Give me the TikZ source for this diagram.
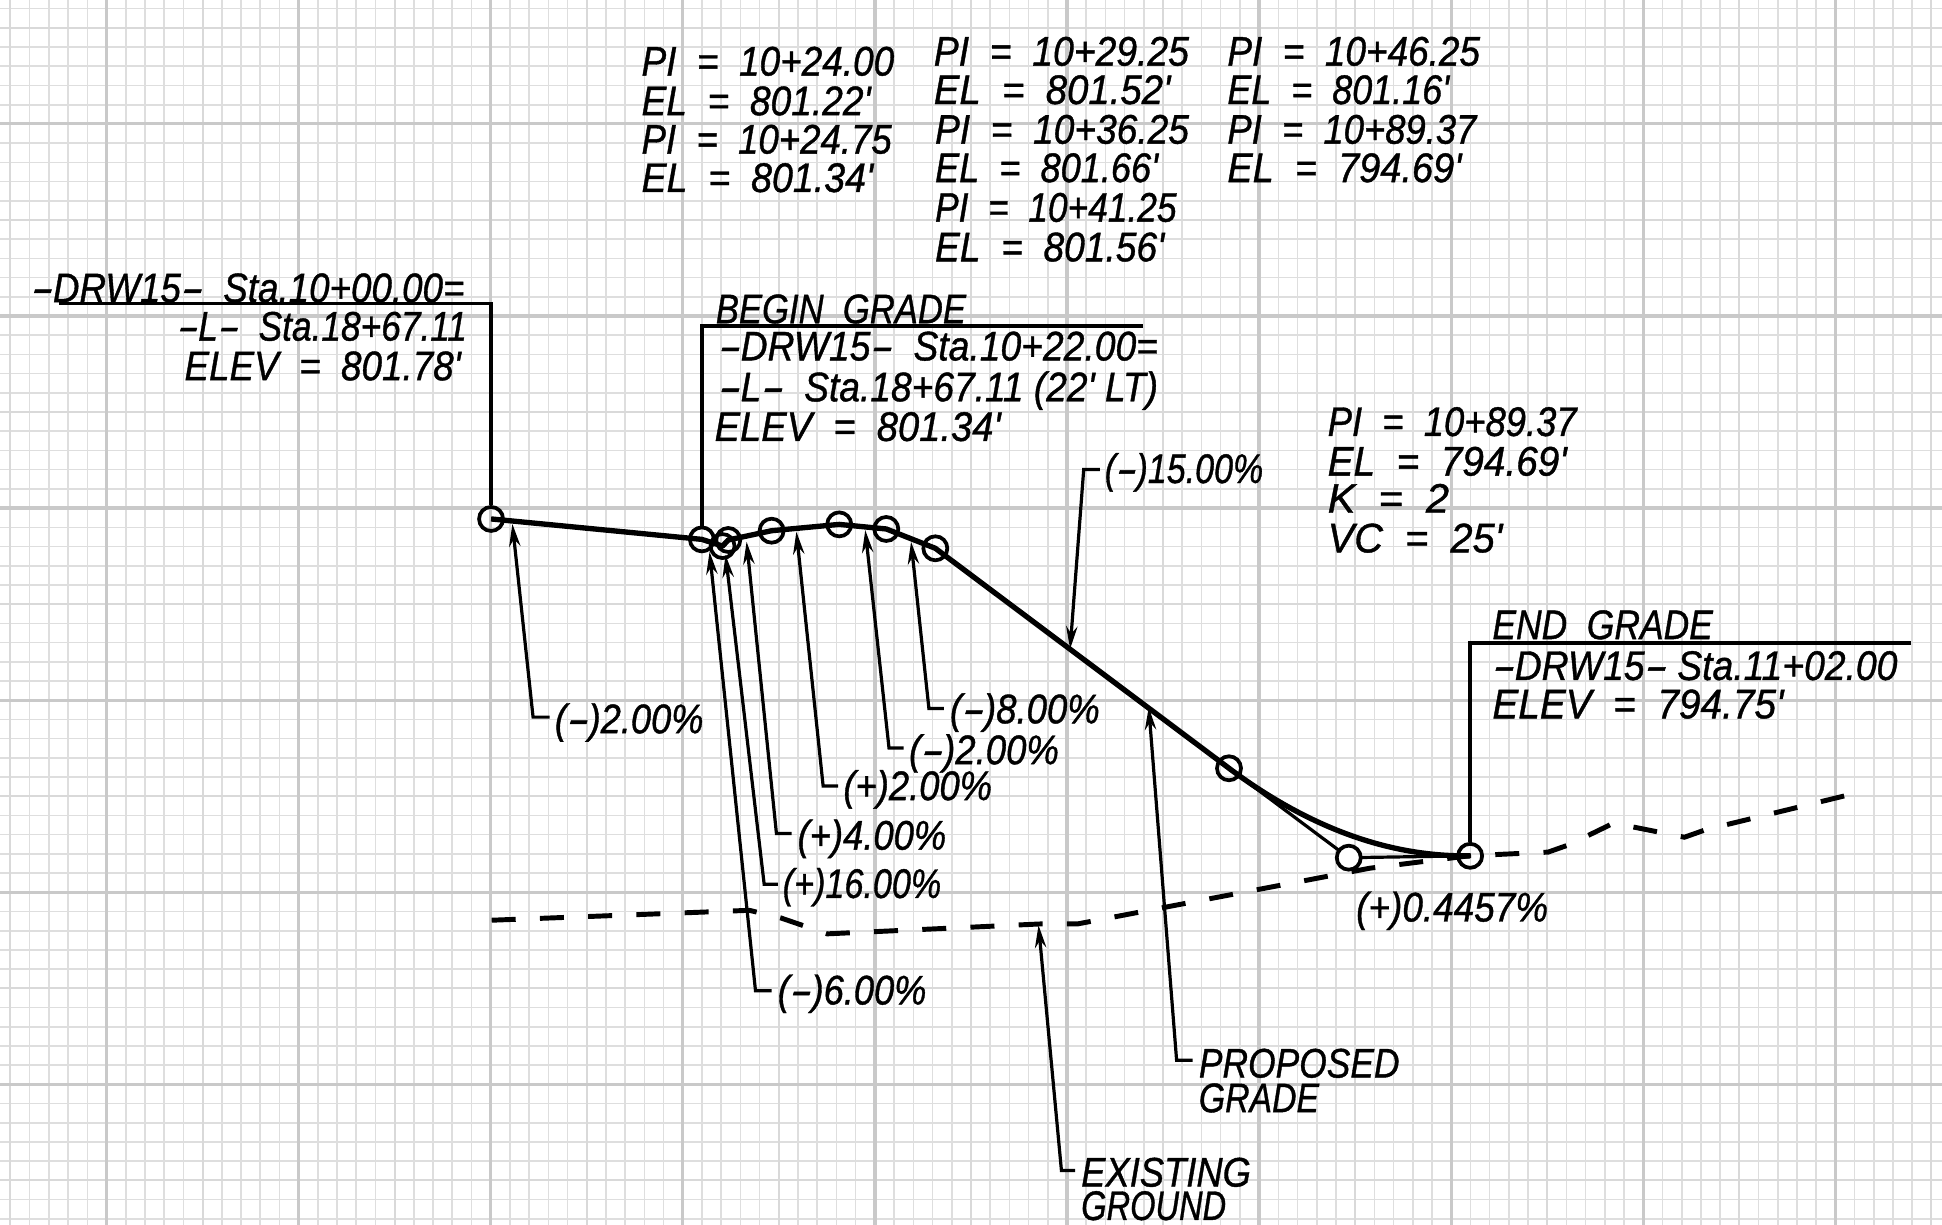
\documentclass[tikz,border=0pt]{standalone}
\usepackage{fontspec}
\usepackage{graphicx}
\usetikzlibrary{arrows.meta}
\newfontfamily\drawfont{Liberation Sans}[RawFeature={embolden=1.0}]
\newsavebox\lblbox
\newlength\lblwd
\newcommand\hy{\scalebox{1.8}[1]{-}}
\newcommand\lbl[5]{%
  \node[lbltext] (#1) at (#2,#3) {\sbox\lblbox{#5}\setlength\lblwd{\wd\lblbox}\pgfmathsetmacro\lblsc{(#4-#2)*0.92889/\the\lblwd}\scalebox{\lblsc}[1]{\usebox\lblbox}};%
}
\tikzset{
  lbltext/.style={anchor=base west,inner sep=0pt,outer sep=0pt,text=black,font=\drawfont\itshape\fontsize{31}{31}\selectfont},
  gridminor/.style={draw=black!13,line width=1.2pt},
  gridmid/.style={draw=black!15,line width=1.5pt},
  gridmajor/.style={draw=black!21,line width=2.4pt},
  callout/.style={draw=black,line width=2.8pt,line join=miter},
  leaderline/.style={draw=black,line width=2.4pt,line join=miter,-{Stealth[length=17pt,width=8.5pt]}},
  gradeline/.style={draw=black,line width=4pt,line join=round},
  tangentline/.style={draw=black,line width=2.4pt},
  groundline/.style={draw=black,line width=3.7pt,dash pattern=on 18pt off 18.2pt},
  station/.style={circle,draw=black,line width=2.8pt,minimum size=18pt,inner sep=0pt},
  openstation/.style={station,fill=white},
}
\begin{document}
\begin{tikzpicture}[x=0.92889pt,y=-0.92889pt]
\useasboundingbox (0,0) rectangle (1568,989);
\fill[white] (0,0) rectangle (1568,989);
% grid
\foreach \k in {0,...,101}{
  \pgfmathsetmacro\gx{8.45+15.51*\k}
  \draw[gridminor] (\gx,0) -- (\gx,989);
}
\foreach \k in {0,...,64}{
  \pgfmathsetmacro\gy{7+15.51*\k}
  \draw[gridminor] (0,\gy) -- (1568,\gy);
}
\foreach \k in {0,...,20}{
  \pgfmathsetmacro\gx{8.45+77.55*\k}
  \draw[gridmid] (\gx,0) -- (\gx,989);
}
\foreach \k in {0,...,12}{
  \pgfmathsetmacro\gy{22.45+77.55*\k}
  \draw[gridmid] (0,\gy) -- (1568,\gy);
}
\foreach \k in {0,...,9}{
  \pgfmathsetmacro\gx{86+155.1*\k}
  \draw[gridmajor] (\gx,0) -- (\gx,989);
}
\foreach \k in {0,...,5}{
  \pgfmathsetmacro\gy{100+155.1*\k}
  \draw[gridmajor] (0,\gy) -- (1568,\gy);
}
% ground
\coordinate (g0) at (397,743);
\coordinate (g1) at (605,735);
\coordinate (g2) at (630,741);
\coordinate (g3) at (668,754);
\coordinate (g4) at (840,746);
\coordinate (g5) at (870,746);
\coordinate (g6) at (1106,701);
\coordinate (g7) at (1186,691);
\coordinate (g8) at (1250,688);
\coordinate (g9) at (1267,682);
\coordinate (g10) at (1302.6,664.7);
\coordinate (g11) at (1320,668);
\coordinate (g12) at (1360,676);
\coordinate (g13) at (1377,670);
\coordinate (g14) at (1489.7,642.5);
\draw[groundline] (g0) -- (g1) -- (g2) -- (g3) -- (g4) -- (g5) -- (g6) -- (g7) -- (g8) -- (g9) -- (g10) -- (g11) -- (g12) -- (g13) -- (g14);
% grade
\coordinate (s1) at (396.5,419);
\coordinate (s2) at (566.7,435.5);
\coordinate (s3) at (583.4,440.9);
\coordinate (s4) at (588,436);
\coordinate (s5) at (623,428.5);
\coordinate (s6) at (677.6,423.4);
\coordinate (s7) at (715.6,427.1);
\coordinate (s8) at (755.2,442.7);
\coordinate (s9) at (992.3,620.3);
\coordinate (s10) at (1089,692.5);
\coordinate (s11) at (1187,691);
\coordinate (k1) at (1056.8,668.4);
\coordinate (k2) at (1121.7,692);
\draw[tangentline] (s9) -- (s10) -- (s11);
\draw[gradeline] (s1) -- (s2) -- (s3) -- (s4) -- (s5) -- (s6) -- (s7) -- (s8) -- (s9) .. controls (k1) and (k2) .. (s11);
\foreach \c in {s1,s2,s3,s4,s5,s6,s7,s8,s9,s11}{
  \node[station] (n\c) at (\c) {};
}
\node[openstation] (ns10) at (s10) {};
% callouts
\coordinate (c1a) at (48,245);
\coordinate (c1b) at (396.5,245);
\coordinate (c2a) at (923,263);
\coordinate (c2b) at (566.7,263);
\coordinate (c3a) at (1543,519);
\coordinate (c3b) at (1187,519);
\draw[callout] (c1a) -- (c1b) -- (ns1.north);
\draw[callout] (c2a) -- (c2b) -- (ns2.north);
\draw[callout] (c3a) -- (c3b) -- (ns11.north);
% leaders
\foreach \n/\ex/\ey/\bx/\by/\tx/\ty in {
  a/443.7/579/430.4/579/413.7/423,
  b/762/572/750/572/735.6/437.4,
  c/729.5/604/717.8/604/698.6/428,
  d/676.8/634.6/664.6/634.6/643/429.3,
  e/639.2/673/626.9/673/602.8/437.4,
  f/628/714/617/714/585.8/448,
  g/623/800/610/800/572.9/445.5,
  h/888/379/875/379/864/524,
  i/963/856/950/856/927.5/571,
  j/868/945/857/945/838.5/747}{
  \coordinate (l\n e) at (\ex,\ey);
  \coordinate (l\n b) at (\bx,\by);
  \coordinate (l\n t) at (\tx,\ty);
  \draw[leaderline] (l\n e) -- (l\n b) -- (l\n t);
}
% top text
\lbl{t1}{518}{61}{722}{PI\ \ =\ \ 10+24.00}
\lbl{t2}{518}{93}{703}{EL\ \ =\ \ 801.22'}
\lbl{t3}{518}{124}{720}{PI\ \ =\ \ 10+24.75}
\lbl{t4}{518}{155}{705}{EL\ \ =\ \ 801.34'}
\lbl{t5}{754}{53}{960}{PI\ \ =\ \ 10+29.25}
\lbl{t6}{754}{84}{945}{EL\ \ =\ \ 801.52'}
\lbl{t7}{755}{116}{960}{PI\ \ =\ \ 10+36.25}
\lbl{t8}{755}{147}{935}{EL\ \ =\ \ 801.66'}
\lbl{t9}{755}{179}{950}{PI\ \ =\ \ 10+41.25}
\lbl{t10}{755}{211}{940}{EL\ \ =\ \ 801.56'}
\lbl{t11}{991}{53}{1195}{PI\ \ =\ \ 10+46.25}
\lbl{t12}{991}{84}{1170}{EL\ \ =\ \ 801.16'}
\lbl{t13}{991}{116}{1192}{PI\ \ =\ \ 10+89.37}
\lbl{t14}{991}{147}{1180}{EL\ \ =\ \ 794.69'}
% station notes
\lbl{a1}{25}{244}{375}{\hy DRW15\hy\ \ Sta.10+00.00=}
\lbl{a2}{143}{275}{377}{\hy L\hy\ \ Sta.18+67.11}
\lbl{a3}{149}{307}{372}{ELEV\ \ =\ \ 801.78'}
\lbl{b1}{578}{261}{780}{BEGIN\ \ GRADE}
\lbl{b2}{580}{291}{935}{\hy DRW15\hy\ \ Sta.10+22.00=}
\lbl{b3}{580}{324}{935}{\hy L\hy\ \ Sta.18+67.11 (22' LT)}
\lbl{b4}{577}{356}{808}{ELEV\ \ =\ \ 801.34'}
\lbl{v1}{1072}{352}{1273}{PI\ \ =\ \ 10+89.37}
\lbl{v2}{1072}{384}{1265}{EL\ \ =\ \ 794.69'}
\lbl{v3}{1072}{414}{1170}{K\ \ =\ \ 2}
\lbl{v4}{1072}{446}{1213}{VC\ \ =\ \ 25'}
\lbl{e1}{1205}{516}{1383}{END\ \ GRADE}
\lbl{e2}{1205}{549}{1532}{\hy DRW15\hy\ Sta.11+02.00}
\lbl{e3}{1205}{580}{1440}{ELEV\ \ =\ \ 794.75'}
% grades
\lbl{p1}{892}{390}{1020}{(\hy)15.00\%}
\lbl{p2}{448}{592}{568}{(\hy)2.00\%}
\lbl{p3}{767}{584}{888}{(\hy)8.00\%}
\lbl{p4}{734}{617}{855}{(\hy)2.00\%}
\lbl{p5}{681}{646}{801}{(+)2.00\%}
\lbl{p6}{644}{686}{764}{(+)4.00\%}
\lbl{p7}{632}{725}{760}{(+)16.00\%}
\lbl{p8}{628}{811}{748}{(\hy)6.00\%}
\lbl{p9}{1095}{744}{1250}{(+)0.4457\%}
\lbl{q1}{968}{870}{1130}{PROPOSED}
\lbl{q2}{968}{898}{1065}{GRADE}
\lbl{q3}{873}{958}{1010}{EXISTING}
\lbl{q4}{873}{985}{990}{GROUND}
\end{tikzpicture}
\end{document}
